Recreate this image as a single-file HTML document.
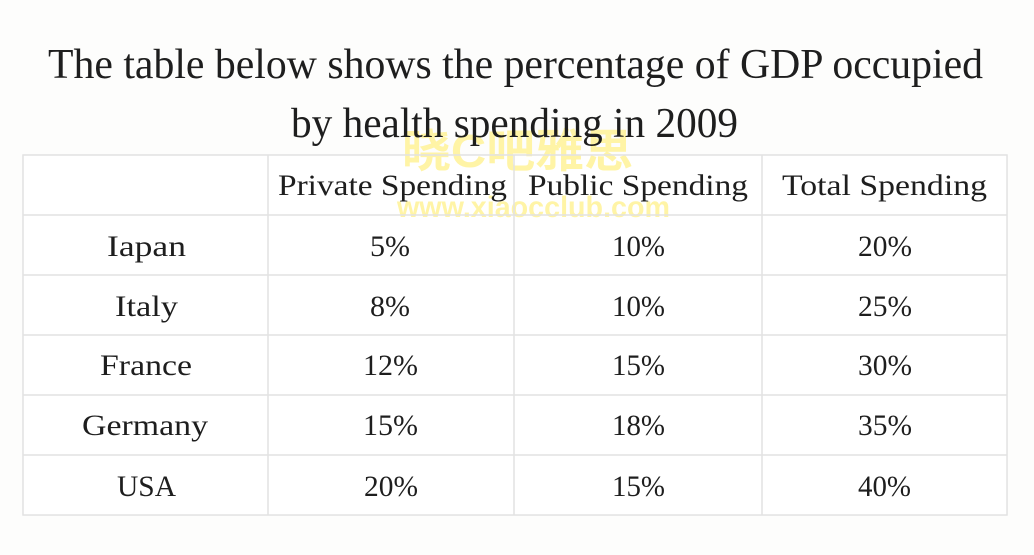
<!DOCTYPE html>
<html>
<head>
<meta charset="utf-8">
<style>
  html,body{margin:0;padding:0;background:#fdfdfc;}
  svg{display:block;}
  .t{font-family:"Liberation Serif","Noto Serif CJK SC",serif;fill:#1e1e1e;}
  .wm{font-family:"Liberation Sans","Noto Sans CJK SC",sans-serif;fill:#fff4a6;font-weight:bold;}
</style>
</head>
<body>
<svg width="1034" height="555" viewBox="0 0 1034 555" xmlns="http://www.w3.org/2000/svg">
  <rect x="0" y="0" width="1034" height="555" fill="#fdfdfc"/>

  <!-- table background -->
  <rect x="23" y="155" width="984" height="360" fill="#ffffff"/>

  <!-- watermark (behind text) -->
  <text class="wm" x="402" y="167" font-size="46" textLength="231" lengthAdjust="spacingAndGlyphs" font-family="Noto Sans CJK SC, sans-serif">晓C吧雅思</text>
  <text class="wm" x="397" y="217" font-size="30" font-weight="normal" textLength="273" lengthAdjust="spacingAndGlyphs">www.xiaocclub.com</text>

  <!-- title -->
  <text class="t" x="48" y="78" font-size="42" textLength="935" lengthAdjust="spacingAndGlyphs">The table below shows the percentage of GDP occupied</text>
  <text class="t" x="291" y="137" font-size="42" textLength="447" lengthAdjust="spacingAndGlyphs">by health spending in 2009</text>

  <!-- grid -->
  <g stroke="#e2e2e2" stroke-width="1.5" fill="none">
    <rect x="23" y="155" width="984" height="360"/>
    <line x1="23" y1="215" x2="1007" y2="215"/>
    <line x1="23" y1="275" x2="1007" y2="275"/>
    <line x1="23" y1="335" x2="1007" y2="335"/>
    <line x1="23" y1="395" x2="1007" y2="395"/>
    <line x1="23" y1="455" x2="1007" y2="455"/>
    <line x1="268" y1="155" x2="268" y2="515"/>
    <line x1="514" y1="155" x2="514" y2="515"/>
    <line x1="762" y1="155" x2="762" y2="515"/>
  </g>

  <!-- headers -->
  <text class="t" x="278" y="195" font-size="30" textLength="229" lengthAdjust="spacingAndGlyphs">Private Spending</text>
  <text class="t" x="528" y="195" font-size="30" textLength="220" lengthAdjust="spacingAndGlyphs">Public Spending</text>
  <text class="t" x="782" y="195" font-size="30" textLength="205" lengthAdjust="spacingAndGlyphs">Total Spending</text>

  <!-- rows -->
  <g class="t" font-size="30">
    <text class="t" x="107" y="256" textLength="79" lengthAdjust="spacingAndGlyphs">Iapan</text>
    <text class="t" x="370" y="256" textLength="40" lengthAdjust="spacingAndGlyphs">5%</text>
    <text class="t" x="612" y="256" textLength="53" lengthAdjust="spacingAndGlyphs">10%</text>
    <text class="t" x="858" y="256" textLength="54" lengthAdjust="spacingAndGlyphs">20%</text>

    <text class="t" x="115" y="316" textLength="63" lengthAdjust="spacingAndGlyphs">Italy</text>
    <text class="t" x="370" y="316" textLength="40" lengthAdjust="spacingAndGlyphs">8%</text>
    <text class="t" x="612" y="316" textLength="53" lengthAdjust="spacingAndGlyphs">10%</text>
    <text class="t" x="858" y="316" textLength="54" lengthAdjust="spacingAndGlyphs">25%</text>

    <text class="t" x="100" y="375" textLength="92" lengthAdjust="spacingAndGlyphs">France</text>
    <text class="t" x="363" y="375" textLength="55" lengthAdjust="spacingAndGlyphs">12%</text>
    <text class="t" x="612" y="375" textLength="53" lengthAdjust="spacingAndGlyphs">15%</text>
    <text class="t" x="858" y="375" textLength="54" lengthAdjust="spacingAndGlyphs">30%</text>

    <text class="t" x="82" y="435" textLength="126" lengthAdjust="spacingAndGlyphs">Germany</text>
    <text class="t" x="363" y="435" textLength="55" lengthAdjust="spacingAndGlyphs">15%</text>
    <text class="t" x="612" y="435" textLength="53" lengthAdjust="spacingAndGlyphs">18%</text>
    <text class="t" x="858" y="435" textLength="54" lengthAdjust="spacingAndGlyphs">35%</text>

    <text class="t" x="117" y="496" textLength="59" lengthAdjust="spacingAndGlyphs">USA</text>
    <text class="t" x="364" y="496" textLength="54" lengthAdjust="spacingAndGlyphs">20%</text>
    <text class="t" x="612" y="496" textLength="53" lengthAdjust="spacingAndGlyphs">15%</text>
    <text class="t" x="858" y="496" textLength="53" lengthAdjust="spacingAndGlyphs" fill="#444">40%</text>
  </g>
</svg>
</body>
</html>
